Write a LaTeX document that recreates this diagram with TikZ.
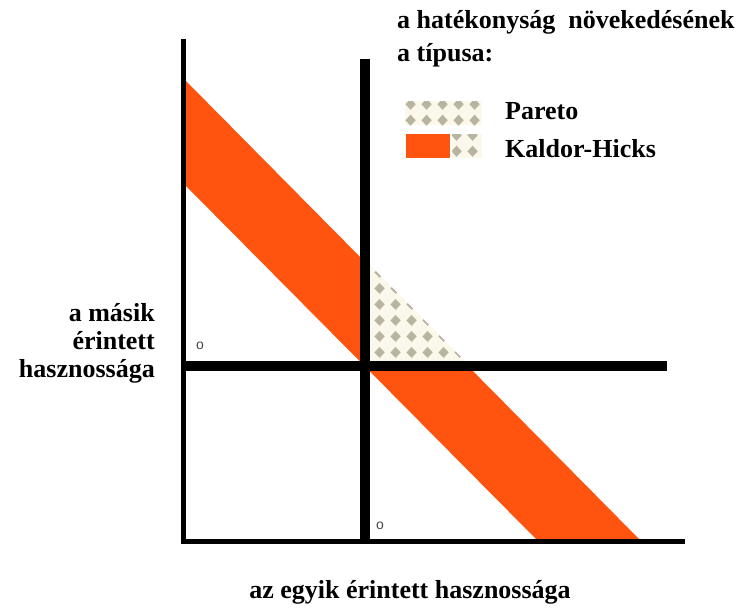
\documentclass[tikz,border=0pt]{standalone}
\usepackage{fontspec}
\setmainfont{Liberation Serif}
\setsansfont{Liberation Sans}
\usetikzlibrary{patterns}
\definecolor{khorange}{RGB}{255,84,16}
\definecolor{paretogray}{RGB}{185,180,160}
\definecolor{paretocream}{RGB}{250,248,234}
\definecolor{zerogray}{RGB}{70,70,70}
\pgfdeclarepatternformonly{diamonds}{\pgfpointorigin}{\pgfpoint{15.5pt}{15.5pt}}%
  {\pgfpoint{15.5pt}{15.5pt}}{%
  \pgfpathmoveto{\pgfpoint{7.75pt}{2.2pt}}
  \pgfpathlineto{\pgfpoint{13pt}{7.75pt}}
  \pgfpathlineto{\pgfpoint{7.75pt}{13.3pt}}
  \pgfpathlineto{\pgfpoint{2.5pt}{7.75pt}}
  \pgfpathclose
  \pgfusepath{fill}}
\tikzset{
  axis/.style     = {line width=5pt},
  midaxis/.style  = {line width=10pt},
  band/.style     = {fill=khorange},
  paretofill/.style = {fill=paretocream,
                       postaction={pattern=diamonds, pattern color=paretogray}},
  lbl/.style      = {inner sep=0pt, font={\fontsize{26}{30}\selectfont\bfseries}},
  zero/.style     = {inner sep=0pt, text=zerogray, font={\sffamily\fontsize{14}{14}\selectfont}},
}

\begin{document}
\begin{tikzpicture}[x=1pt, y=-1pt]
  \useasboundingbox (0,0) rectangle (746,608);

  % key points
  \coordinate (yTop) at (183,39);
  \coordinate (O)    at (183,541);
  \coordinate (xEnd) at (685,541);
  \coordinate (vTop) at (365,59);
  \coordinate (vBot) at (365,543);
  \coordinate (C)    at (365,366);
  \coordinate (hL)   at (183,366);
  \coordinate (hR)   at (667,366);

  % Kaldor-Hicks band
  \coordinate (bandTL) at (185,80);
  \coordinate (bandBR) at (641,541);
  \coordinate (bandBL) at (538,541);
  \coordinate (bandLL) at (185,185);
  \fill[band] (bandTL) -- (bandBR) -- (bandBL) -- (bandLL) -- cycle;

  % Pareto part
  \coordinate (parTop)   at (365,260);
  \coordinate (parRight) at (470,366);
  \path[paretofill] (C) -- (parTop) -- (parRight) -- cycle;

  % axes
  \draw[axis] (yTop) -- (183,543.5);
  \draw[axis] (181,541) -- (xEnd);
  \draw[midaxis] (vTop) -- (vBot);
  \draw[midaxis] (hL) -- (hR);

  \node[zero] (zeroA) at (200,346) {o};
  \node[zero] (zeroB) at (380,526) {o};

  % axis labels
  \node[lbl, anchor=base east] (ylab1) at (155,321) {a másik};
  \node[lbl, anchor=base east] (ylab2) at (155,349) {érintett};
  \node[lbl, anchor=base east] (ylab3) at (155,377) {hasznossága};
  \node[lbl, anchor=base] (xlab) at (410,598) {az egyik érintett hasznossága};

  % legend
  \node[lbl, anchor=base west] (title1) at (397,28) {a hatékonyság~ növekedésének};
  \node[lbl, anchor=base west] (title2) at (397,61) {a típusa:};
  \path[paretofill] (405,101) rectangle (482,125);
  \path[paretofill] (452,134) rectangle (482,158);
  \fill[band] (406,134) rectangle (450,158);
  \node[lbl, anchor=base west] (parLab) at (505,119) {Pareto};
  \node[lbl, anchor=base west] (khLab) at (505,157) {Kaldor-Hicks};
\end{tikzpicture}
\end{document}
